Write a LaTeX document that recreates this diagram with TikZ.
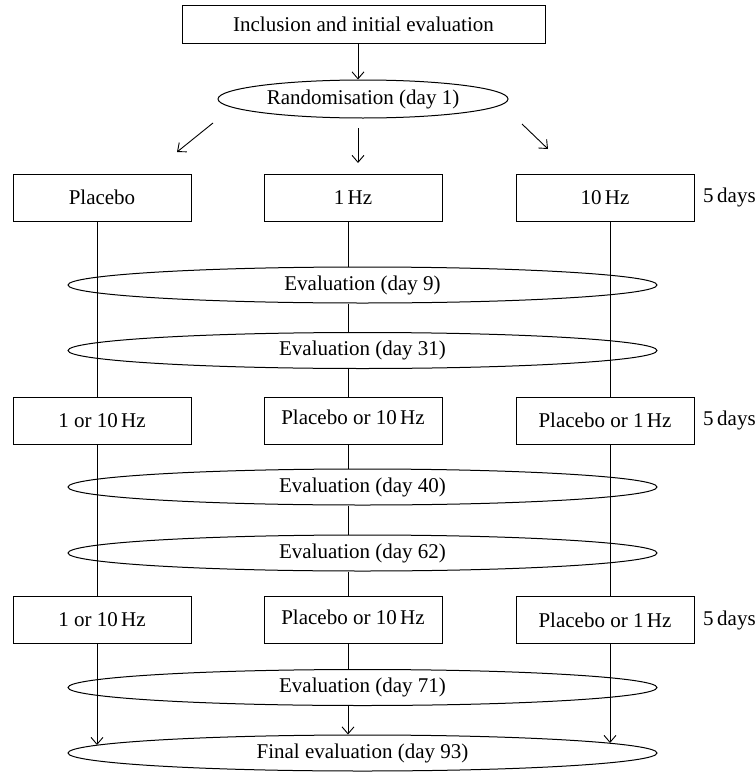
\documentclass[tikz,border=0pt]{standalone}
\usepackage{fontspec}
\setmainfont{Liberation Serif}
\usetikzlibrary{shapes.geometric,arrows.meta}
\begin{document}
\begin{tikzpicture}[x=1pt,y=-1pt,
  every node/.style={font=\fontsize{21}{24}\selectfont, inner sep=0pt},
  armbox/.style={draw, line width=1pt, minimum width=178pt, minimum height=47pt},
  evalell/.style={draw, ellipse, line width=1pt, minimum width=589pt, minimum height=36pt},
  ln/.style={line width=0.9pt},
  arr/.style={line width=0.9pt, -{Straight Barb[length=7pt,width=12pt,line width=0.9pt]}},
  daylabel/.style={anchor=west}]
\useasboundingbox (0,0) rectangle (755,779);
% columns
\coordinate (L) at (97,0);
\coordinate (C) at (348,0);
\coordinate (R) at (610,0);
\coordinate (T) at (358,0);
% top
\node[draw, line width=1pt, minimum width=363pt, minimum height=38pt] (incl) at (363.5,24) {Inclusion and initial evaluation};
\node[draw, ellipse, line width=1pt, minimum width=290pt, minimum height=38pt] (rand) at (363,99) {Randomisation (day 1)};
% row 1
\node[armbox] (p1) at (102,197.5) {Placebo};
\node[armbox] (c1) at (353,197.5) {1\,Hz};
\node[armbox] (r1) at (605,197.5) {10\,Hz};
\node[daylabel] (d1) at (703,197.5) {5\,days};
\node[evalell] (e9) at (362.5,285) {Evaluation (day 9)};
\node[evalell] (e31) at (362.5,350.5) {Evaluation (day 31)};
% row 2
\node[armbox] (p2) at (102,420.5) {1 or 10\,Hz};
\node[armbox] (c2) at (353,420.5) {\raisebox{7pt}{Placebo or 10\,Hz}};
\node[armbox] (r2) at (605,420.5) {Placebo or 1\,Hz};
\node[daylabel] (d2) at (703,420.5) {5\,days};
\node[evalell] (e40) at (362.5,487) {Evaluation (day 40)};
\node[evalell] (e62) at (362.5,553) {Evaluation (day 62)};
% row 3
\node[armbox] (p3) at (102,620) {1 or 10\,Hz};
\node[armbox] (c3) at (353,620) {\raisebox{6pt}{Placebo or 10\,Hz}};
\node[armbox] (r3) at (605,620) {Placebo or 1\,Hz};
\node[daylabel] (d3) at (703,620) {5\,days};
\node[evalell] (e71) at (362.5,687.5) {Evaluation (day 71)};
\node[evalell] (fin) at (362.5,753) {Final evaluation (day 93)};
% arrows at top
\draw[arr] (incl.south -| T) -- (rand.north -| T);
\coordinate (a1s) at (213,123); \coordinate (a1e) at (177,152);
\coordinate (a2s) at (358,128); \coordinate (a2e) at (358,163);
\coordinate (a3s) at (522,124); \coordinate (a3e) at (548,149);
\draw[arr] (a1s) -- (a1e);
\draw[arr] (a2s) -- (a2e);
\draw[arr] (a3s) -- (a3e);
% side lines
\draw[ln] (p1.south -| L) -- (p2.north -| L);
\draw[ln] (p2.south -| L) -- (p3.north -| L);
\draw[ln] (r1.south -| R) -- (r2.north -| R);
\draw[ln] (r2.south -| R) -- (r3.north -| R);
\coordinate (fL) at (97,745);
\coordinate (fR) at (610,743);
\draw[arr] (p3.south -| L) -- (fL);
\draw[arr] (r3.south -| R) -- (fR);
% centre lines
\draw[ln] (c1.south -| C) -- (e9.north -| C);
\draw[ln] (e9.south -| C) -- (e31.north -| C);
\draw[ln] (e31.south -| C) -- (c2.north -| C);
\draw[ln] (c2.south -| C) -- (e40.north -| C);
\draw[ln] (e40.south -| C) -- (e62.north -| C);
\draw[ln] (e62.south -| C) -- (c3.north -| C);
\draw[ln] (c3.south -| C) -- (e71.north -| C);
\draw[arr] (e71.south -| C) -- (fin.north -| C);
\end{tikzpicture}
\end{document}
